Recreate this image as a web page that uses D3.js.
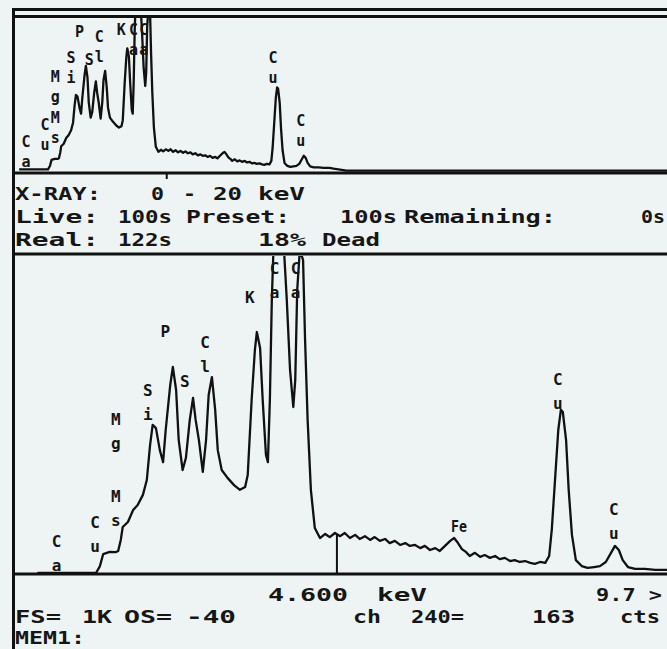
<!DOCTYPE html>
<html>
<head>
<meta charset="utf-8">
<title>X-ray spectrum</title>
<script src="https://cdn.jsdelivr.net/npm/d3@7"></script>
<style>
  body{margin:0;background:#eef4f3;}
  svg text{font-family:"DejaVu Sans Mono",monospace;font-weight:bold;fill:#161616;}
</style>
</head>
<body>
<div id="chart"></div>
<script>
// spectrum: energy (keV) and counts per channel
var energy = [0.00,0.90,0.96,1.01,1.11,1.20,1.24,1.28,1.31,1.39,1.47,1.54,1.62,1.68,1.73,1.77,1.82,1.88,1.93,1.97,
  2.04,2.08,2.13,2.17,2.23,2.28,2.34,2.39,2.43,2.48,2.54,2.59,2.63,2.68,2.73,2.77,2.83,2.92,3.02,3.11,
  3.19,3.23,3.29,3.34,3.37,3.42,3.46,3.51,3.54,3.57,3.60,3.63,3.69,3.77,3.83,3.88,3.93,3.96,3.99,4.03,
  4.08,4.11,4.15,4.20,4.26,4.34,4.42,4.49,4.57,4.65,4.72,4.80,4.88,4.95,5.03,5.11,5.18,5.26,5.34,5.41,
  5.49,5.57,5.65,5.72,5.80,5.88,5.95,6.03,6.11,6.18,6.26,6.34,6.40,6.46,6.52,6.58,6.64,6.72,6.80,6.87,
  6.95,7.03,7.10,7.18,7.26,7.33,7.41,7.49,7.57,7.64,7.72,7.80,7.86,7.90,7.95,8.00,8.04,8.07,8.12,8.16,
  8.21,8.27,8.36,8.45,8.55,8.64,8.73,8.81,8.87,8.93,8.99,9.07,9.18,9.33,9.49,9.67,9.80,10.2,20.4];
var counts = [40,40,62,100,107,106,110,145,186,202,240,256,288,335,446,510,500,430,392,494,
  637,694,621,462,367,405,526,596,526,462,361,462,605,662,558,430,367,342,319,304,
  313,351,589,748,805,754,589,415,392,589,907,1097,1224,1129,907,685,567,653,938,1065,
  1034,786,526,304,183,151,164,154,167,157,167,151,161,148,157,145,154,142,148,135,
  142,129,135,126,129,119,126,113,119,110,126,142,151,135,116,107,94,104,91,97,
  88,94,84,88,78,81,75,78,72,69,75,72,94,177,335,494,558,551,462,304,
  161,81,62,56,59,62,75,104,126,113,81,59,53,53,50,50,45,32,32];

// peak labels and their line energies (keV)
var topLabels = ["Ca","Cu","Mg","Ms","Si","P","S","Cl","K","Ca","Ca","Cu","Cu"];
var topLabelE = [0.34,0.93,1.25,1.25,1.74,2.01,2.31,2.62,3.31,3.69,4.01,8.04,8.90];
var botLabels = ["Ca","Cu","Mg","Ms","Si","P","S","Cl","K","Ca","Ca","Fe","Cu","Cu"];
var botLabelE = [0.34,0.93,1.25,1.25,1.74,2.01,2.31,2.62,3.31,3.69,4.01,6.40,8.04,8.90];

// cursor
var cursorE = 4.6, cursorCounts = 163;

// screen text
var statusTop = [
  ["X-RAY:","0","-","20","keV"],
  ["Live:","100s","Preset:","100s","Remaining:","0s"],
  ["Real:","122s","18%","Dead"]
];
var statusBot = [
  ["4.600","keV","9.7 >"],
  ["FS=","1K","OS=","-40","ch","240=","163","cts"],
  ["MEM1:"]
];

var W = 667, H = 649;
var svg = d3.select("#chart").append("svg").attr("width", W).attr("height", H);
svg.append("rect").attr("width", W).attr("height", H).attr("fill", "#eef4f3");

var pts = energy.map(function(e, i){ return [e, counts[i]]; });

var xTop = d3.scaleLinear().domain([-0.16, 20.19]).range([14, 667]);
var yTop = d3.scaleLinear().domain([30, 990]).range([171, 19]);
var xBot = d3.scaleLinear().domain([-0.36, 9.67]).range([14, 667]);
var yBot = d3.scaleLinear().domain([40, 1040]).range([573, 258]);

var defs = svg.append("defs");
defs.append("clipPath").attr("id","clipTop").append("rect").attr("x",15).attr("y",18).attr("width",652).attr("height",154);
defs.append("clipPath").attr("id","clipBot").append("rect").attr("x",15).attr("y",256).attr("width",652).attr("height",318);

function trace(x, y, clip){
  var line = d3.line().x(function(d){ return x(d[0]); }).y(function(d){ return y(d[1]); });
  svg.append("path").datum(pts)
    .attr("clip-path", "url(#" + clip + ")")
    .attr("d", line)
    .attr("fill", "none")
    .attr("stroke", "#111")
    .attr("stroke-width", 2.3)
    .attr("stroke-linejoin", "round");
}
trace(xTop, yTop, "clipTop");
trace(xBot, yBot, "clipBot");

// stacked peak labels
function labels(names, es, x, shift, ys, step, size){
  names.forEach(function(n, i){
    var cx = x(es[i]) + shift;
    if (n == "Fe") {
      svg.append("text").attr("x", cx).attr("y", ys[i]).attr("font-size", size)
        .attr("textLength", 16).attr("lengthAdjust","spacingAndGlyphs").text(n);
      return;
    }
    n.split("").forEach(function(ch, j){
      svg.append("text").attr("x", cx).attr("y", ys[i] + j*step)
        .attr("text-anchor","middle").attr("font-size", size).text(ch);
    });
  });
}
labels(topLabels, topLabelE, xTop, -4, [147,130,82,123,63,37,65,42,35,35,35,63,126], 20, 15);
labels(botLabels, botLabelE, xBot, -3, [547,528,425,502,396,337,387,348,303,274,274,532,385,515], 24, 16);

// cursor
svg.append("line").attr("x1", xBot(cursorE)).attr("x2", xBot(cursorE))
  .attr("y1", yBot(cursorCounts)).attr("y2", 574).attr("stroke","#111").attr("stroke-width",2);
svg.append("line").attr("x1", xTop(cursorE)).attr("x2", xTop(cursorE))
  .attr("y1", 172).attr("y2", 179).attr("stroke","#111").attr("stroke-width",2);

// frame
var frame = svg.append("g").attr("stroke","#111").attr("stroke-width",3);
frame.append("line").attr("x1",13.5).attr("x2",13.5).attr("y1",8).attr("y2",H);
[9.5, 16.5, 173, 254, 574].forEach(function(y){
  frame.append("line").attr("x1",12).attr("x2",W).attr("y1",y).attr("y2",y);
});

// status text, token x / width measured on screen
var topPos = [
  [[15,86],[151,13],[183,13],[213,29],[258,47]],
  [[15,84],[118,54],[186,104],[340,57],[404,152],[641,24]],
  [[15,84],[118,54],[258,48],[322,58]]
];
var botPos = [
  [[268,80],[377,50],[596,66]],
  [[15,46],[82,30],[124,48],[186,50],[353,28],[411,53],[532,43],[620,40]],
  [[15,70]]
];
function rows(txt, pos, base){
  txt.forEach(function(r, i){
    r.forEach(function(t, j){
      svg.append("text").attr("x", pos[i][j][0]).attr("y", base[i])
        .attr("font-size", 18)
        .attr("textLength", pos[i][j][1]).attr("lengthAdjust","spacingAndGlyphs")
        .style("white-space","pre").text(t);
    });
  });
}
rows(statusTop, topPos, [200, 223, 246]);
rows(statusBot, botPos, [601, 622.5, 644]);
</script>
</body>
</html>
